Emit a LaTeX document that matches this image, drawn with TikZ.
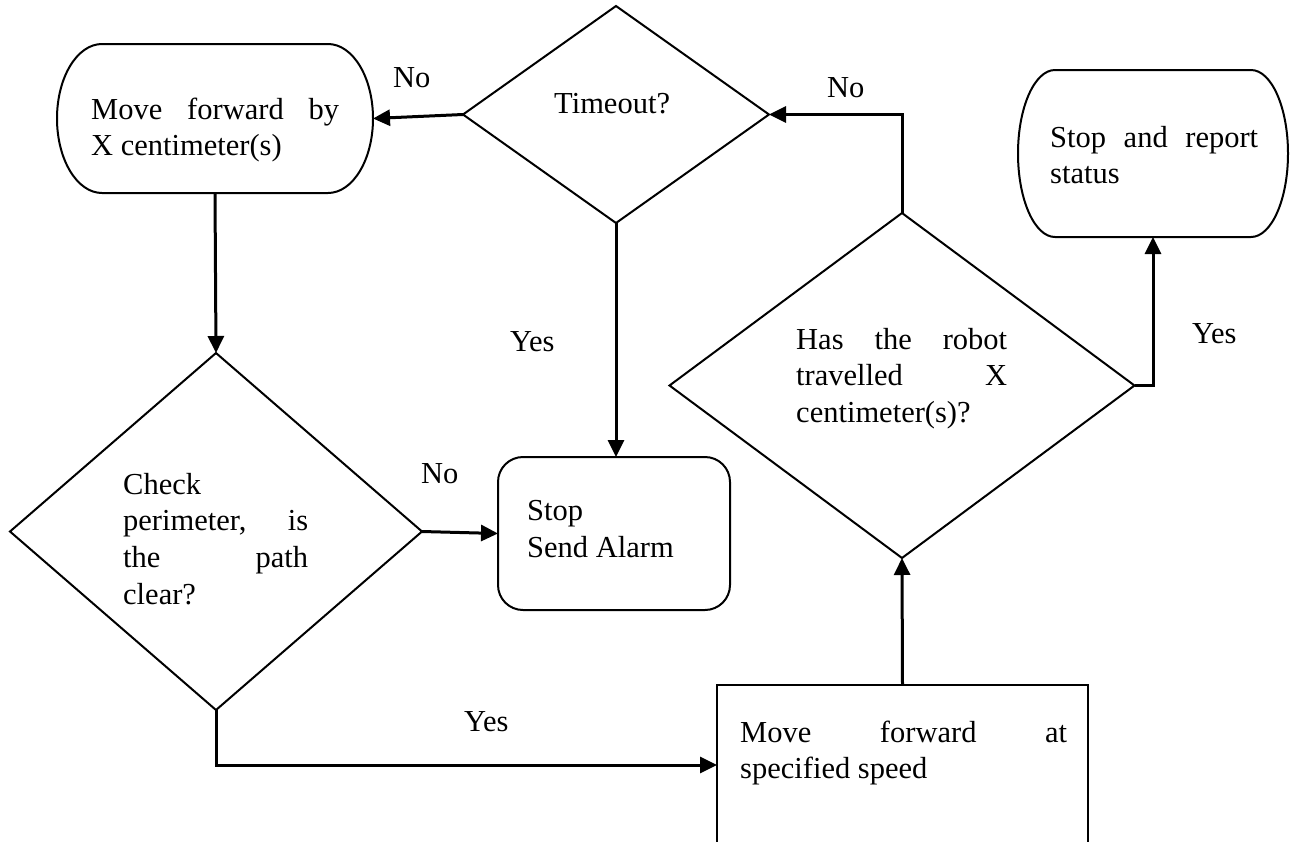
\documentclass[tikz,border=0pt]{standalone}
\usepackage{fontspec}
\setmainfont{Liberation Serif}
\usetikzlibrary{shapes.geometric,arrows.meta}
\tikzstyle{decision} = [diamond, draw, line width=2pt, inner sep=0pt, outer sep=0pt]
\tikzstyle{block} = [rectangle, draw, line width=2pt, inner sep=0pt, outer sep=0pt]
\tikzstyle{terminal} = [rectangle, inner sep=0pt, outer sep=0pt]
\tikzstyle{outline} = [draw, line width=2pt]
\tikzstyle{txt} = [inner sep=0pt, anchor=base west, align=justify]
\tikzstyle{lbl} = [inner sep=0pt, anchor=base west]
\tikzstyle{line} = [draw, line width=3pt, -{Triangle[length=17pt,width=16pt]}]
\newcommand{\stadium}[3]{%
  \path [outline] ([xshift=#2]#1.north west) -- ([xshift=-#2]#1.north east)
    arc[start angle=90, end angle=-90, x radius=#2, y radius=#3]
    -- ([xshift=#2]#1.south west)
    arc[start angle=270, end angle=90, x radius=#2, y radius=#3] -- cycle;}

\begin{document}
\begin{tikzpicture}[x=1pt, y=-1pt, font=\fontsize{30.5}{36.8}\selectfont]
  \useasboundingbox (0,0) rectangle (1296,841);
  \clip (0,0) rectangle (1296,841);
  \node [terminal, minimum width=316, minimum height=149] (move) at (215,118.5) {};
  \node [decision, minimum width=306, minimum height=217] (timeout) at (616,114.5) {};
  \node [terminal, minimum width=270, minimum height=167] (report) at (1153,153.5) {};
  \node [decision, minimum width=412, minimum height=357] (check) at (216,531.5) {};
  \node [block, rounded corners=25pt, minimum width=232, minimum height=153] (alarm) at (614,533.5) {};
  \node [decision, minimum width=465, minimum height=345] (robot) at (902,385.5) {};
  \node [block, minimum width=371, minimum height=160] (speed) at (902.5,765) {};
  \stadium{move}{45pt}{74.5pt}
  \stadium{report}{37pt}{83.5pt}
  \node [txt, text width=248] (move_txt) at (91,119) {Move forward by\linebreak X centimeter(s)};
  \node [lbl] (timeout_txt) at (554,113) {Timeout?};
  \node [txt, text width=208] (report_txt) at (1050,147) {Stop and report\linebreak status};
  \node [txt, text width=185] (check_txt) at (123,494) {Check\linebreak perimeter, is\linebreak the path\linebreak clear?};
  \node [lbl, align=left] (alarm_txt) at (527,557) {Stop\\Send Alarm};
  \node [txt, text width=211] (robot_txt) at (796,349) {Has the robot\linebreak travelled X\linebreak centimeter(s)?};
  \node [txt, text width=327] (speed_txt) at (740,742) {Move forward at\linebreak specified speed};
  \node [lbl] (no_move) at (393,87) {No};
  \node [lbl] (no_timeout) at (827,97) {No};
  \node [lbl] (no_alarm) at (421,483) {No};
  \node [lbl] (yes_alarm) at (510,351) {Yes};
  \node [lbl] (yes_report) at (1192,343) {Yes};
  \node [lbl] (yes_speed) at (464,731) {Yes};
  \path [line] (timeout.west) -- (move.east);
  \path [line] (robot.north) |- (timeout.east);
  \path [line] (timeout.south) -- (timeout.south |- alarm.north);
  \path [line] (move.south) -- (check.north);
  \path [line] (check.east) -- (alarm.west);
  \path [line] (check.south) |- (speed.west);
  \path [line] (speed.north) -- (robot.south);
  \path [line] (robot.east) -| (report.south);
\end{tikzpicture}
\end{document}
